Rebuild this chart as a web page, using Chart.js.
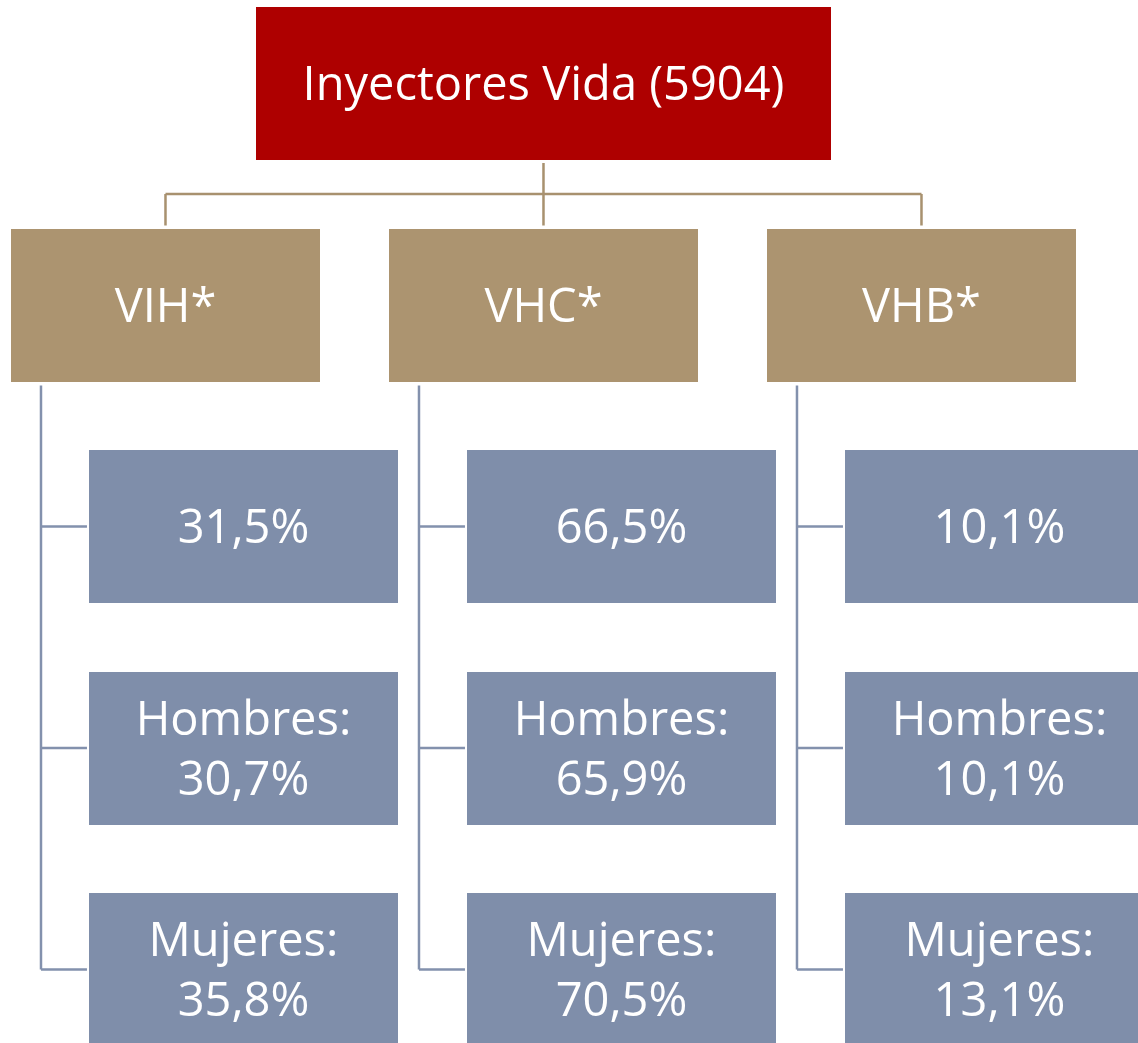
<!DOCTYPE html>
<html>
<head>
<meta charset="utf-8">
<script src="https://cdn.jsdelivr.net/npm/chart.js@4.4.1/dist/chart.umd.min.js"></script>
<style>
html,body{margin:0;padding:0;background:#ffffff;}
#wrap{width:1138px;height:1043px;}
</style>
</head>
<body>
<div id="wrap"><canvas id="c" width="1138" height="1043"></canvas></div>
<script>
// ---- data ----
const rootLabel = "Inyectores Vida (5904)";
const groups = ["VIH*", "VHC*", "VHB*"];
const totalPct = [31.5, 66.5, 10.1];
const menPct = [30.7, 65.9, 10.1];
const womenPct = [35.8, 70.5, 13.1];
const leafPrefixes = ["", "Hombres:", "Mujeres:"];

// ---- build nodes (col / row positions in layout units) ----
const fmt = v => v.toFixed(1).replace('.', ',') + '%';
const nodes = [];
nodes.push({x: 1, y: 0, kind: 'root', lines: [rootLabel]});
groups.forEach((g, i) => {
  nodes.push({x: i, y: 1, kind: 'group', lines: [g], col: i});
  const vals = [totalPct[i], menPct[i], womenPct[i]];
  vals.forEach((v, j) => {
    const lines = leafPrefixes[j] ? [leafPrefixes[j], fmt(v)] : [fmt(v)];
    nodes.push({x: i + 0.2063, y: 2 + j, kind: 'leaf', lines, col: i});
  });
});

// ---- styles ----
const STY = {
  root: {w: 575, h: 153, fill: '#AE0000'},
  group: {w: 309, h: 153, fill: '#AC9470'},
  leaf: {w: 309, h: 153, fill: '#7F8EAA'},
  tanLine: '#A8916F',
  blueLine: '#8391AD',
  font: '"Open Sans", "Noto Sans", sans-serif'
};

let fontPx = 40;
function fitFont(ctx) {
  ctx.font = '100px ' + STY.font;
  const w = ctx.measureText(rootLabel).width;
  fontPx = 100 * 482 / w;
}

const orgPlugin = {
  id: 'org',
  beforeDatasetsDraw(chart) {
    const ctx = chart.ctx;
    const pts = chart.getDatasetMeta(0).data;
    const root = pts[0];
    const gIdx = nodes.map((n, i) => n.kind === 'group' ? i : -1).filter(i => i >= 0);
    const rootBottom = root.y + STY.root.h / 2;
    const gTop = pts[gIdx[0]].y - STY.group.h / 2;
    const barY = Math.round((rootBottom + gTop) / 2);
    ctx.save();
    ctx.lineWidth = 2.5;
    ctx.strokeStyle = STY.tanLine;
    ctx.beginPath();
    ctx.moveTo(root.x, rootBottom + 3);
    ctx.lineTo(root.x, barY);
    ctx.moveTo(pts[gIdx[0]].x, barY);
    ctx.lineTo(pts[gIdx[gIdx.length - 1]].x, barY);
    gIdx.forEach(i => {
      ctx.moveTo(pts[i].x, barY);
      ctx.lineTo(pts[i].x, gTop - 3);
    });
    ctx.stroke();

    ctx.strokeStyle = STY.blueLine;
    gIdx.forEach(gi => {
      const g = pts[gi];
      const lx = g.x - STY.group.w / 2 + 30;
      const leaves = nodes.map((n, i) => (n.kind === 'leaf' && n.col === nodes[gi].col) ? i : -1).filter(i => i >= 0);
      const lastY = pts[leaves[leaves.length - 1]].y;
      ctx.beginPath();
      ctx.moveTo(lx, g.y + STY.group.h / 2 + 4);
      ctx.lineTo(lx, lastY);
      leaves.forEach(li => {
        const p = pts[li];
        ctx.moveTo(lx, p.y);
        ctx.lineTo(p.x - STY.leaf.w / 2 - 2, p.y);
      });
      ctx.stroke();
    });
    ctx.restore();
  },
  afterDatasetsDraw(chart) {
    const ctx = chart.ctx;
    fitFont(ctx);
    const pts = chart.getDatasetMeta(0).data;
    ctx.save();
    nodes.forEach((n, i) => {
      const s = STY[n.kind];
      const p = pts[i];
      const x0 = Math.round(p.x - s.w / 2), y0 = Math.round(p.y - s.h / 2);
      ctx.fillStyle = s.fill;
      ctx.fillRect(x0, y0, s.w, s.h);
      ctx.fillStyle = '#ffffff';
      ctx.font = fontPx.toFixed(2) + 'px ' + STY.font;
      ctx.textAlign = 'center';
      ctx.textBaseline = 'alphabetic';
      const lh = 60;
      const n0 = n.lines.length;
      n.lines.forEach((t, k) => {
        const cy = p.y + (k - (n0 - 1) / 2) * lh;
        ctx.fillText(t, p.x, cy + fontPx * 0.36);
      });
    });
    ctx.restore();
  }
};

new Chart(document.getElementById('c'), {
  type: 'scatter',
  data: {
    datasets: [{
      data: nodes.map(n => ({x: n.x, y: n.y})),
      pointRadius: 0,
      pointHoverRadius: 0
    }]
  },
  options: {
    responsive: false,
    animation: false,
    devicePixelRatio: 1,
    layout: {padding: 0},
    plugins: {legend: {display: false}, tooltip: {enabled: false}},
    events: [],
    scales: {
      x: {type: 'linear', display: false, min: -0.4378, max: 2.5728},
      y: {type: 'linear', display: false, reverse: true, min: -0.37698, max: 4.33183}
    }
  },
  plugins: [orgPlugin]
});
</script>
</body>
</html>
